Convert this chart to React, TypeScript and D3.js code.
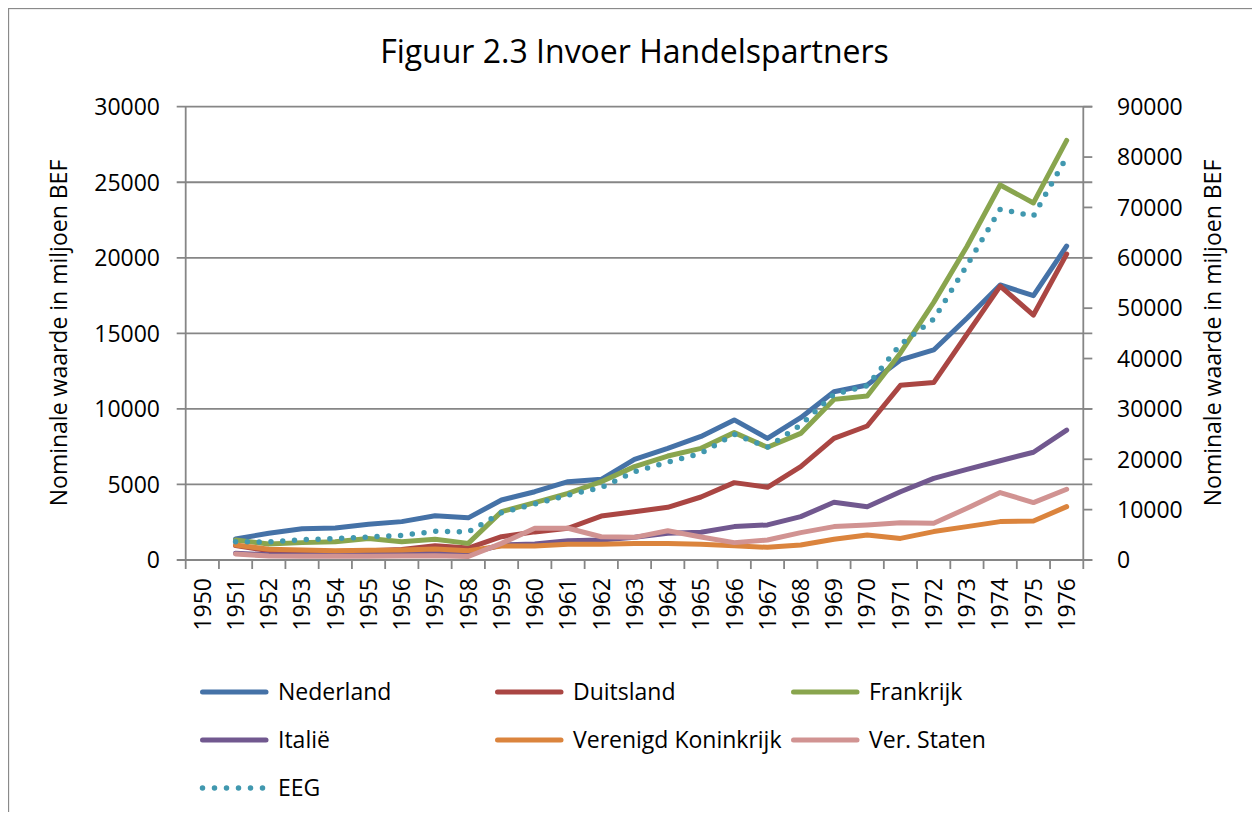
import React from "react";
import * as d3 from "d3";

const years = ["1950","1951","1952","1953","1954","1955","1956","1957","1958","1959","1960","1961","1962","1963","1964","1965","1966","1967","1968","1969","1970","1971","1972","1973","1974","1975","1976"];
const dataYears = years.slice(1);

const leftTicks = [0, 5000, 10000, 15000, 20000, 25000, 30000];
const rightTicks = [0, 10000, 20000, 30000, 40000, 50000, 60000, 70000, 80000, 90000];

const nederland = [1390,1770,2070,2120,2360,2540,2930,2790,3970,4520,5180,5340,6660,7390,8180,9270,8050,9420,11140,11580,13240,13900,16000,18200,17490,20780];
const duitsland = [950,620,560,560,620,700,940,790,1540,1860,2100,2910,3200,3490,4170,5120,4810,6180,8050,8870,11560,11740,14940,18130,16210,20250];
const frankrijk = [1320,1060,1150,1210,1430,1210,1370,1100,3200,3800,4410,5180,6180,6880,7390,8430,7460,8380,10630,10850,13700,17050,20750,24820,23630,27770];
const italie = [450,350,330,330,380,420,520,420,990,1060,1280,1320,1500,1770,1840,2210,2320,2870,3820,3530,4520,5400,6000,6570,7130,8600];
const verenigdKoninkrijk = [990,710,660,620,640,660,730,620,930,930,1040,1040,1100,1100,1050,950,840,990,1370,1660,1430,1880,2210,2540,2580,3530];
const verStaten = [400,260,250,250,250,260,280,230,1100,2100,2100,1540,1500,1940,1520,1150,1320,1810,2210,2320,2470,2430,3420,4460,3800,4680];
const eeg = [3630,3570,4030,4230,4570,4900,5690,5550,9400,11100,12900,14400,17500,19400,21200,24950,22400,26800,32900,34600,42800,47800,58500,69650,68300,80000];

const seriesNames = ["Nederland","Duitsland","Frankrijk","Italië","Verenigd Koninkrijk","Ver. Staten","EEG"];
const seriesValues = [nederland, duitsland, frankrijk, italie, verenigdKoninkrijk, verStaten, eeg];
const seriesAxis = ["left","left","left","left","left","left","right"];
const seriesColors = ["#4572A7","#AA4643","#89A54E","#71588F","#DB843D","#D19392","#4198AF"];

const FONT = "'Open Sans', 'Noto Sans', sans-serif";
const GRID = "#868686";

export default function App() {
  const x0 = 185.7, x1 = 1083.3, yTop = 106.7, yBot = 560;
  const x = d3.scaleBand<string>().domain(years).range([x0, x1]);
  const yL = d3.scaleLinear().domain([0, 30000]).range([yBot, yTop]);
  const yR = d3.scaleLinear().domain([0, 90000]).range([yBot, yTop]);
  const bw = x.bandwidth();

  const lineFor = (axis: string) =>
    d3.line<number>()
      .x((_, i) => (x(dataYears[i]) as number) + bw / 2)
      .y((v) => (axis === "right" ? yR(v) : yL(v)));

  const legendCols = [200, 495, 791];
  const legendRows = [692, 740, 788];

  return (
    <svg width={1244} height={804} style={{ display: "block" }} fontFamily={FONT}>
      <g transform="translate(-8,-8)">
        <rect x={0} y={0} width={1300} height={900} fill="#ffffff" />
        <rect x={8.5} y={8.5} width={1400} height={1000} fill="none" stroke="#8a8a8a" strokeWidth={1.3} />

        <text x={634.5} y={63} textAnchor="middle" fontSize={32} fill="#000">Figuur 2.3 Invoer Handelspartners</text>

        {/* gridlines */}
        {leftTicks.map((t) => (
          <line key={"g" + t} x1={x0 - 9} x2={x1 + 9} y1={yL(t)} y2={yL(t)} stroke={GRID} strokeWidth={1.8} />
        ))}
        {/* left axis */}
        <line x1={x0} x2={x0} y1={yTop} y2={yBot} stroke={GRID} strokeWidth={1.8} />
        {leftTicks.map((t) => (
          <text key={"lt" + t} x={160} y={yL(t)} dy="0.36em" textAnchor="end" fontSize={23} fill="#000">{t}</text>
        ))}
        {/* right axis */}
        <line x1={x1} x2={x1} y1={yTop} y2={yBot} stroke={GRID} strokeWidth={1.8} />
        {rightTicks.map((t) => (
          <g key={"rt" + t}>
            <line x1={x1} x2={x1 + 9} y1={yR(t)} y2={yR(t)} stroke={GRID} strokeWidth={1.8} />
            <text x={1117} y={yR(t)} dy="0.36em" textAnchor="start" fontSize={23} fill="#000">{t}</text>
          </g>
        ))}
        {/* x axis ticks */}
        {years.map((yr) => (
          <line key={"xt" + yr} x1={x(yr) as number} x2={x(yr) as number} y1={yBot} y2={yBot + 9} stroke={GRID} strokeWidth={1.8} />
        ))}
        <line x1={x1} x2={x1} y1={yBot} y2={yBot + 9} stroke={GRID} strokeWidth={1.8} />
        {years.map((yr) => {
          const cx = (x(yr) as number) + bw / 2;
          return (
            <text key={"xl" + yr} transform={`translate(${cx},578) rotate(-90)`} dy="0.36em" textAnchor="end" fontSize={23} fill="#000">{yr}</text>
          );
        })}

        {/* axis titles */}
        <text transform={`translate(67,333) rotate(-90)`} textAnchor="middle" fontSize={23} fill="#000">Nominale waarde in miljoen BEF</text>
        <text transform={`translate(1221,333) rotate(-90)`} textAnchor="middle" fontSize={23} fill="#000">Nominale waarde in miljoen BEF</text>

        {/* series */}
        {seriesValues.map((vals, si) => (
          <path
            key={"s" + si}
            d={lineFor(seriesAxis[si])(vals) as string}
            fill="none"
            stroke={seriesColors[si]}
            strokeWidth={si === 6 ? 5.5 : 5}
            strokeLinecap="round"
            strokeLinejoin="round"
            strokeDasharray={si === 6 ? "0 11.8" : undefined}
          />
        ))}

        {/* legend */}
        {seriesNames.map((name, si) => {
          const lx = legendCols[si % 3];
          const ly = legendRows[Math.floor(si / 3)];
          return (
            <g key={"lg" + si}>
              <line
                x1={lx + 2.5}
                x2={lx + 66}
                y1={ly}
                y2={ly}
                stroke={seriesColors[si]}
                strokeWidth={si === 6 ? 5.5 : 5}
                strokeLinecap="round"
                strokeDasharray={si === 6 ? "0 12" : undefined}
              />
              <text x={lx + 78} y={ly} dy="0.36em" fontSize={23} fill="#000">{name}</text>
            </g>
          );
        })}
      </g>
    </svg>
  );
}
